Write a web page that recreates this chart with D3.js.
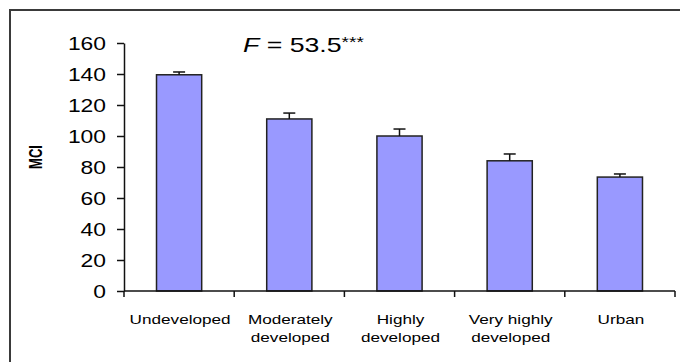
<!DOCTYPE html>
<html><head><meta charset="utf-8">
<script src="https://cdn.jsdelivr.net/npm/d3@7"></script>
<style>body{margin:0;background:#fff}svg{display:block}text{font-family:"Liberation Sans",Arial,sans-serif;fill:#000}</style>
</head><body>
<svg id="c" width="680" height="362"></svg>
<script>
const categories = [["Undeveloped"], ["Moderately","developed"], ["Highly","developed"], ["Very highly","developed"], ["Urban"]];
const values = [139.5, 111, 100, 84, 73.5];
const errors = [1.8, 3.8, 4.5, 4.4, 2.0];
const yTicks = [0, 20, 40, 60, 80, 100, 120, 140, 160];
const yLabel = "MCI";

const SX = 1.27;
const svg = d3.select("#c");
const keys = categories.map(c => c.join(" "));

svg.append("rect").attr("x", 10).attr("y", 10).attr("width", 700).attr("height", 400)
  .attr("fill", "none").attr("stroke", "#3a3a3a").attr("stroke-width", 2);

const x = d3.scaleBand().domain(keys).range([124, 675]).padding(0);
const y = d3.scaleLinear().domain([0, 160]).range([291, 43]);
const bw = x.bandwidth() * 0.41;

// bars
svg.selectAll("rect.bar").data(values).join("rect").attr("class","bar")
  .attr("x", (d,i) => x(keys[i]) + x.bandwidth()/2 - bw/2)
  .attr("y", d => y(d)).attr("width", bw).attr("height", d => y(0) - y(d))
  .attr("fill", "#9999ff").attr("stroke", "#222").attr("stroke-width", 1.5);

// error bars
const eg = svg.append("g").attr("stroke", "#111").attr("stroke-width", 1.5);
values.forEach((v,i) => {
  const cx = x(keys[i]) + x.bandwidth()/2;
  eg.append("line").attr("x1", cx).attr("x2", cx).attr("y1", y(v)).attr("y2", y(v + errors[i]));
  eg.append("line").attr("x1", cx - 6).attr("x2", cx + 6).attr("y1", y(v + errors[i])).attr("y2", y(v + errors[i]));
});

// y axis
const ya = svg.append("g").attr("transform", "translate(124,0)")
  .call(d3.axisLeft(y).tickValues(yTicks).tickSize(7).tickSizeOuter(0));
ya.select(".domain").attr("stroke", "#111").attr("stroke-width", 1.5);
ya.selectAll(".tick line").attr("stroke", "#111").attr("stroke-width", 1.5);
ya.selectAll(".tick text").attr("x", null).attr("dy", "0.36em")
  .attr("transform", `translate(-18,0) scale(${SX},1)`)
  .style("font-size", "18px").attr("fill", "#000");

// x axis
const xg = svg.append("g").attr("stroke", "#111").attr("stroke-width", 1.5);
xg.append("line").attr("x1", x.range()[0]).attr("x2", x.range()[1]).attr("y1", y(0)).attr("y2", y(0));
keys.concat([null]).forEach((k) => {
  const px = k === null ? x.range()[1] : x(k);
  xg.append("line").attr("x1", px).attr("x2", px).attr("y1", y(0)).attr("y2", y(0) + 6);
});

// category labels
categories.forEach((lines, i) => {
  const cx = x(keys[i]) + x.bandwidth()/2 + 1;
  lines.forEach((t, j) => {
    svg.append("text").attr("text-anchor", "middle")
      .attr("transform", `translate(${cx},${324 + j*18}) scale(${SX},1)`)
      .style("font-size", "13.5px").text(t);
  });
});

// y label
svg.append("text").attr("text-anchor", "middle")
  .attr("transform", `translate(42,157) scale(1.35,1) rotate(-90)`)
  .style("font-size", "13px").style("font-weight", "bold").text(yLabel);

// F annotation
const ft = svg.append("text").attr("transform", `translate(243,52) scale(${SX},1)`).style("font-size", "21px");
ft.append("tspan").style("font-style", "italic").text("F");
ft.append("tspan").text(" = 53.5");
ft.append("tspan").attr("dy", "-0.35em").style("font-size", "15px").text("***");
</script>
</body></html>
